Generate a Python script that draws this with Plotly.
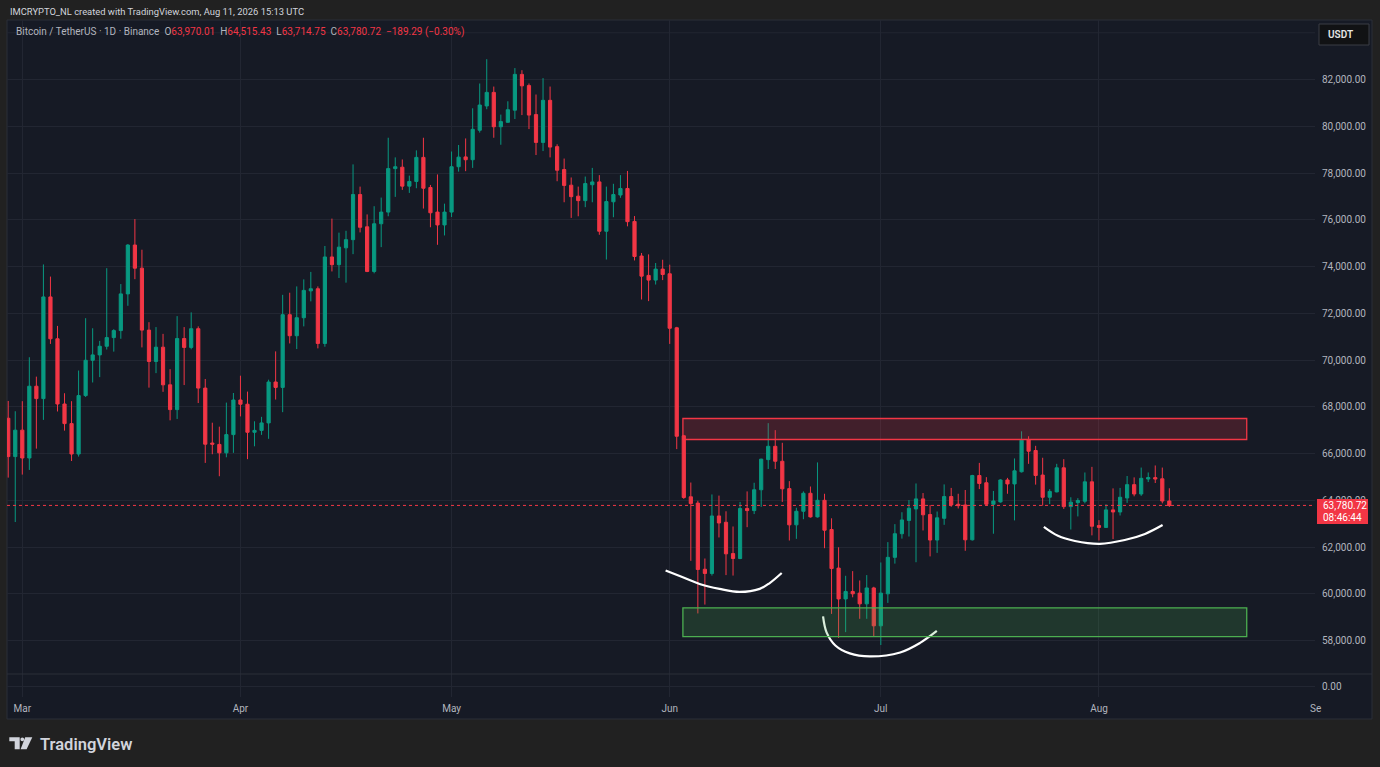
import pandas as pd
import plotly.graph_objects as go

# daily candles, Feb 27 -> Aug 11 2026 (BTCUSDT, Binance)
dates = pd.date_range("2026-02-27", "2026-08-11", freq="D")

opens = [67510, 65870, 67000, 65810, 68880, 68350, 72700, 70910, 68120, 67280,
         65980, 68480, 69990, 70220, 70590, 70960, 71260, 72830, 74920, 73930,
         71280, 69940, 70550, 68940, 67880, 70920, 70540, 71340, 68800, 66450,
         66390, 66030, 66810, 68290, 68110, 66910, 66990, 67310, 69060, 68830,
         71940, 71040, 71810, 72960, 73050, 70710, 74410, 74080, 74800, 75150,
         77080, 75700, 73790, 75830, 76330, 78190, 78250, 77440, 77640, 78670,
         77380, 76330, 75780, 76330, 78270, 78690, 78570, 79830, 80870, 81450,
         79980, 80170, 80690, 82220, 81740, 80500, 79310, 81110, 79130, 78150,
         77480, 77010, 76820, 77500, 77620, 75510, 76770, 77060, 77340, 75930,
         74450, 73620, 73420, 73890, 73690, 71380, 66760, 64150, 63880, 61050,
         60870, 63330, 63060, 61720, 61510, 63650, 63560, 64450, 65740, 66310,
         65670, 64500, 62950, 63530, 64300, 63290, 64000, 62750, 61100, 59780,
         60100, 60030, 59570, 60250, 58630, 60000, 61560, 62570, 63140, 63630,
         64060, 63390, 62300, 63230, 64160, 63830, 63800, 62310, 65060, 64750,
         63830, 63930, 64870, 64700, 65220, 66600, 66130, 65080, 64130, 64360,
         65390, 63730, 63900, 63960, 64790, 62920, 62840, 63590, 63500, 64100,
         64670, 64270, 64910, 64970, 64920, 63970.01]
highs = [68250, 67810, 68240, 70120, 69290, 74090, 73570, 71460, 68580, 68240,
         69550, 71790, 71360, 70820, 73930, 71320, 73250, 74960, 76030, 74720,
         71620, 71410, 71120, 69610, 71880, 71410, 72040, 71440, 69190, 67320,
         67150, 68180, 68590, 69330, 68650, 67380, 67570, 69160, 70370, 72790,
         72880, 73150, 73450, 73770, 73150, 74880, 76050, 75450, 75530, 78370,
         77420, 76230, 76580, 76950, 79510, 78670, 78580, 77890, 78970, 79510,
         77490, 77940, 76690, 78920, 79200, 79480, 80770, 81830, 82870, 81700,
         80500, 81070, 82490, 82400, 81830, 81360, 82060, 81700, 79230, 78620,
         77810, 77420, 77850, 78220, 77910, 77420, 77540, 77910, 78090, 76160,
         74580, 74520, 74150, 74290, 74080, 71420, 66800, 64760, 63980, 61510,
         64250, 64200, 63530, 62880, 63930, 64380, 64750, 65780, 67300, 67000,
         66460, 64820, 63680, 64380, 64590, 65620, 64280, 63230, 61990, 60770,
         60970, 60570, 60800, 60300, 61340, 62210, 62980, 63490, 64010, 64720,
         64310, 63800, 63520, 64680, 64530, 64280, 64440, 65090, 65600, 64990,
         64400, 64900, 64960, 65790, 66950, 66740, 66330, 65820, 64480, 65560,
         65760, 64130, 64090, 65190, 65430, 63150, 63830, 64510, 64530, 65040,
         64980, 65400, 65190, 65490, 65400, 64515.43]
lows = [64970, 63070, 65100, 65300, 66210, 67440, 70690, 67800, 66980, 65680,
        65870, 68420, 69040, 69270, 70450, 70360, 70910, 72320, 73460, 70540,
        68820, 69440, 68640, 67420, 67480, 68930, 70460, 68160, 65600, 65970,
        65030, 65840, 66030, 67590, 65760, 66310, 66800, 66630, 68310, 67770,
        70710, 70470, 71440, 72510, 70500, 70570, 73790, 73510, 73310, 74530,
        75460, 73760, 73710, 74830, 76150, 76980, 77280, 77150, 77350, 76480,
        75680, 74930, 75330, 76120, 78060, 78080, 78220, 79730, 80730, 79510,
        79210, 80160, 80310, 80480, 79880, 78770, 78940, 78670, 77650, 76750,
        76080, 76150, 76540, 76750, 75360, 74300, 76110, 76940, 75720, 74260,
        72590, 72520, 73230, 73420, 70690, 66190, 64060, 61410, 59160, 59540,
        60780, 62410, 60800, 60780, 61480, 62850, 63410, 63720, 65340, 65340,
        63930, 62280, 62350, 63190, 63260, 63260, 61950, 59140, 58110, 58360,
        59850, 58930, 58930, 58160, 57810, 59610, 61290, 62360, 62450, 61350,
        62710, 61600, 61750, 62950, 63720, 63650, 61840, 62280, 64480, 63760,
        62570, 63900, 64280, 63140, 65190, 65560, 64670, 63770, 63840, 64340,
        63630, 62750, 63310, 63870, 62500, 62280, 62820, 62340, 63350, 63890,
        64170, 64190, 64780, 64740, 63870, 63714.75]
closes = [65870, 67000, 65810, 68880, 68350, 72700, 70910, 68120, 67280, 65980,
          68480, 69990, 70220, 70590, 70960, 71260, 72830, 74920, 73930, 71280,
          69940, 70550, 68940, 67880, 70920, 70540, 71340, 68800, 66400, 66400,
          66030, 66810, 68290, 68110, 66910, 66990, 67310, 69060, 68830, 71940,
          71040, 71810, 72980, 73050, 70710, 74410, 74080, 74830, 75150, 77080,
          75680, 73790, 75830, 76330, 78190, 78270, 77440, 77640, 78670, 77350,
          76300, 75780, 76330, 78270, 78680, 78570, 79870, 80910, 81450, 79980,
          80200, 80710, 82220, 81730, 80480, 79310, 81110, 79110, 78120, 77470,
          76990, 76820, 77550, 77620, 75510, 76780, 77080, 77340, 75920, 74430,
          73590, 73420, 73890, 73660, 71360, 66740, 64120, 63860, 61040, 60870,
          63330, 63030, 61710, 61510, 63650, 63560, 64450, 65760, 66310, 65670,
          64490, 62950, 63530, 64300, 63290, 64000, 62720, 61080, 59780, 60100,
          60000, 59570, 60250, 58630, 60030, 61560, 62570, 63160, 63660, 64060,
          63380, 62300, 63250, 64160, 63800, 63770, 62310, 65060, 64720, 63830,
          63970, 64870, 64700, 65260, 66570, 66100, 65060, 64130, 64380, 65390,
          63730, 63920, 63990, 64790, 62890, 62840, 63590, 63500, 64130, 64670,
          64270, 64940, 64970, 64910, 63970, 63780.72]

# price axis labels (84,000 sits hidden under the USDT button, only its grid line shows)
price_ticks = [58000, 60000, 62000, 64000, 66000, 68000, 70000, 72000, 74000, 76000, 78000, 80000, 82000]
hidden_grid = 84000

# drawings on the chart
resist_zone = ["2026-06-02 21:00", "2026-08-22 00:00", 66600, 67500]
support_zone = ["2026-06-02 21:00", "2026-08-22 00:00", 58170, 59400]

arc1_x = ["2026-05-31 10:00", "2026-06-02 10:00", "2026-06-05 06:00", "2026-06-08 02:00",
          "2026-06-10 22:00", "2026-06-13 19:00", "2026-06-15 05:00", "2026-06-16 22:00"]
arc1_y = [61000, 60760, 60420, 60210, 60080, 60210, 60460, 60890]
arc2_x = ["2026-06-22 19:00", "2026-06-23 07:00", "2026-06-24 13:00", "2026-06-26 14:00",
          "2026-06-29 10:00", "2026-07-03 18:00", "2026-07-06 14:00", "2026-07-08 23:00"]
arc2_y = [59030, 58350, 57790, 57450, 57320, 57490, 57900, 58410]
arc3_x = ["2026-07-24 04:00", "2026-07-26 04:00", "2026-07-28 14:00", "2026-08-01 03:00",
          "2026-08-04 16:00", "2026-08-07 13:00", "2026-08-10 01:00"]
arc3_y = [62860, 62480, 62260, 62140, 62300, 62560, 62940]

UP = "#089981"
DOWN = "#f23645"
GRID = "#222632"
TXT = "#b2b5be"
W, H = 1380, 767


def px(x):
    return x / W


def py(y):
    return 1 - y / H


fig = go.Figure()
fig.add_trace(go.Candlestick(
    x=dates, open=opens, high=highs, low=lows, close=closes,
    increasing=dict(line=dict(color=UP, width=1), fillcolor=UP),
    decreasing=dict(line=dict(color=DOWN, width=1), fillcolor=DOWN),
    whiskerwidth=0, hoverinfo="skip"))

for ax, ay in [(arc1_x, arc1_y), (arc2_x, arc2_y), (arc3_x, arc3_y)]:
    fig.add_trace(go.Scatter(x=ax, y=ay, mode="lines", hoverinfo="skip",
                             line=dict(color="white", width=2.2, shape="spline", smoothing=1)))

# empty lower pane
fig.add_trace(go.Scatter(x=[], y=[], xaxis="x2", yaxis="y2"))

shapes = [
    # chart panel
    dict(type="rect", xref="paper", yref="paper", x0=px(7), x1=px(1372), y0=py(719), y1=py(20),
         fillcolor="#161a25", line=dict(color="#2a2e39", width=1), layer="below"),
    dict(type="line", xref="x domain", yref="y", x0=0, x1=1, y0=hidden_grid, y1=hidden_grid,
         line=dict(color=GRID, width=1), layer="below"),
    # pane separator
    dict(type="line", xref="paper", yref="paper", x0=px(7), x1=px(1372), y0=py(674), y1=py(674),
         line=dict(color="#2a2e39", width=1)),
    # zones
    dict(type="rect", xref="x", yref="y", x0=resist_zone[0], x1=resist_zone[1],
         y0=resist_zone[2], y1=resist_zone[3], fillcolor="rgba(242,54,69,0.2)",
         line=dict(color=DOWN, width=1.3), layer="above"),
    dict(type="rect", xref="x", yref="y", x0=support_zone[0], x1=support_zone[1],
         y0=support_zone[2], y1=support_zone[3], fillcolor="rgba(76,175,80,0.2)",
         line=dict(color="#4caf50", width=1.3), layer="above"),
    # last price line
    dict(type="line", xref="x domain", yref="y", x0=0, x1=1, y0=closes[-1], y1=closes[-1],
         line=dict(color=DOWN, width=1, dash="dot"), layer="above"),
    # last price tag
    dict(type="rect", xref="paper", yref="paper", x0=px(1317), x1=px(1368), y0=py(524), y1=py(499),
         fillcolor=DOWN, line=dict(width=0), layer="above"),
    # USDT button
    dict(type="rect", xref="paper", yref="paper", x0=px(1319), x1=px(1369), y0=py(45), y1=py(24),
         fillcolor="#111214", line=dict(color="#3a3d45", width=1), layer="above"),
]

# TradingView logo
logo = [
    [(9.3, 737.3), (19.7, 737.3), (19.7, 749.3), (14.7, 749.3), (14.7, 741.3), (9.3, 741.3)],
    [(25.2, 737.3), (32.3, 737.3), (26.6, 749.3), (20.6, 749.3)],
]
for poly in logo:
    path = "M " + " L ".join(f"{px(a):.5f},{py(b):.5f}" for a, b in poly) + " Z"
    shapes.append(dict(type="path", xref="paper", yref="paper", path=path,
                       fillcolor="#d1d4dc", line=dict(width=0)))
shapes.append(dict(type="circle", xref="paper", yref="paper", x0=px(20.4), x1=px(24.2),
                   y0=py(741.2), y1=py(737.4), fillcolor="#d1d4dc", line=dict(width=0)))

red = DOWN
legend_text = (f"<span style='color:{TXT}'>Bitcoin / TetherUS · 1D · Binance</span>  "
               f"<span style='color:{TXT}'>O</span><span style='color:{red}'>{opens[-1]:,.2f}</span>  "
               f"<span style='color:{TXT}'>H</span><span style='color:{red}'>{highs[-1]:,.2f}</span>  "
               f"<span style='color:{TXT}'>L</span><span style='color:{red}'>{lows[-1]:,.2f}</span>  "
               f"<span style='color:{TXT}'>C</span><span style='color:{red}'>{closes[-1]:,.2f}</span>  "
               f"<span style='color:{red}'>−189.29 (−0.30%)</span>")

annotations = [
    dict(x=px(8), y=py(11), text="IMCRYPTO_NL created with TradingView.com, Aug 11, 2026 15:13 UTC",
         font=dict(size=9.4, color="#d1d4dc")),
    dict(x=px(14), y=py(32), text=legend_text, font=dict(size=10, color=TXT)),
    dict(x=px(1326), y=py(34.5), text="USDT", font=dict(size=10, color="#e6e6e6", weight=600)),
    dict(x=px(1321), y=py(505.5), text=f"{closes[-1]:,.2f}", font=dict(size=10, color="white")),
    dict(x=px(1321), y=py(517.5), text="08:46:44", font=dict(size=10, color="white")),
    dict(x=px(1308), y=py(708), text="Se", font=dict(size=10, color=TXT)),
    dict(x=px(38), y=py(744), text="TradingView", font=dict(size=16.5, color="#d1d4dc", weight=600)),
]
for a in annotations:
    a.update(xref="paper", yref="paper", xanchor="left", yanchor="middle", showarrow=False)

xdom = [px(7), px(1315)]
xrange = ["2026-02-26 19:49", "2026-08-31 16:48"]

fig.update_layout(
    width=W, height=H, margin=dict(l=0, r=0, t=0, b=0),
    paper_bgcolor="#212121", plot_bgcolor="rgba(0,0,0,0)",
    font=dict(family="Roboto, Lato, sans-serif", size=10, color=TXT),
    showlegend=False, hovermode=False, boxgap=0.35,
    shapes=shapes, annotations=annotations,
    xaxis=dict(domain=xdom, range=xrange, type="date", rangeslider=dict(visible=False),
               showticklabels=False, showgrid=True, gridcolor=GRID, gridwidth=1,
               dtick="M1", tick0="2026-01-01", zeroline=False, showline=False, ticks=""),
    yaxis=dict(domain=[py(674), py(20)], range=[56569, 84547], side="right", anchor="x",
               tickvals=price_ticks, tickformat=",.2f", showgrid=True, gridcolor=GRID,
               zeroline=False, showline=False, ticks="", ticklabelstandoff=6,
               tickfont=dict(size=10, color=TXT)),
    xaxis2=dict(domain=xdom, range=xrange, type="date", anchor="y2", matches="x",
                showgrid=True, gridcolor=GRID, dtick="M1", tick0="2026-01-01",
                tickformat="%b", ticks="", ticklabelstandoff=4, showline=False,
                tickfont=dict(size=10, color=TXT)),
    yaxis2=dict(domain=[py(697), py(674)], range=[-1, 1.09], side="right", anchor="x2",
                tickvals=[0], tickformat=".2f", showgrid=True, gridcolor=GRID,
                zeroline=False, showline=False, ticks="", ticklabelstandoff=6,
                tickfont=dict(size=10, color=TXT)),
)

fig.write_html("out.html", config={"displayModeBar": False},
               post_script="document.body.style.margin='0';")
